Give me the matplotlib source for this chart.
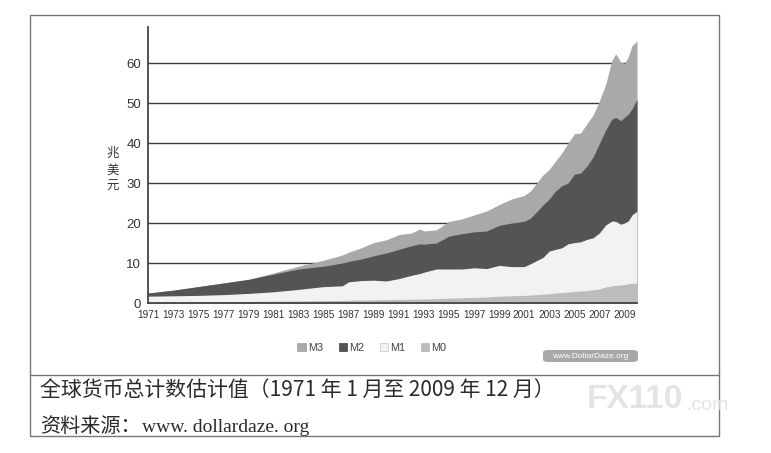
import matplotlib
matplotlib.use("Agg")
import matplotlib.pyplot as plt
from matplotlib.patches import Patch, Rectangle, FancyBboxPatch
from matplotlib.lines import Line2D

plt.rcParams['font.family'] = ['Liberation Sans', 'Noto Sans CJK SC', 'DejaVu Sans']

# data (trillion USD)
years = [1971, 1973, 1975, 1977, 1979, 1981, 1983, 1985, 1986.5, 1987, 1988, 1989,
         1990, 1991, 1992, 1992.7, 1993, 1994, 1995, 1996, 1997, 1998, 1999, 2000,
         2001, 2001.5, 2002, 2002.5, 2003, 2003.5, 2004, 2004.5, 2005, 2005.5, 2006,
         2006.5, 2007, 2007.5, 2008, 2008.3, 2008.7, 2009, 2009.3, 2009.6, 2010]
m3 = [2.5, 3.2, 4.1, 5.0, 5.9, 7.5, 9.2, 10.7, 12.0, 12.7, 13.8, 15.1,
      15.8, 17.1, 17.5, 18.5, 18.0, 18.3, 20.4, 21.0, 22.0, 23.0, 24.6, 26.0,
      26.9, 28.0, 30.0, 32.0, 33.4, 35.5, 37.5, 40.0, 42.3, 42.5, 44.8,
      47.0, 50.5, 54.6, 60.7, 62.3, 60.3, 59.9, 61.5, 64.3, 65.5]
m2 = [2.5, 3.2, 4.1, 5.0, 5.9, 7.2, 8.5, 9.2, 10.0, 10.4, 11.0, 11.8,
      12.5, 13.4, 14.3, 14.8, 14.7, 15.0, 16.7, 17.3, 17.8, 18.0, 19.4, 20.0,
      20.4, 21.2, 22.8, 24.5, 26.0, 28.0, 29.3, 30.0, 32.2, 32.5, 34.2,
      36.5, 39.9, 43.2, 46.0, 46.4, 45.6, 46.4, 47.2, 48.5, 50.9]
m1 = [1.7, 1.8, 1.9, 2.1, 2.4, 2.8, 3.4, 4.1, 4.3, 5.3, 5.6, 5.7,
      5.5, 6.1, 6.9, 7.4, 7.7, 8.5, 8.5, 8.5, 8.8, 8.6, 9.4, 9.1,
      9.1, 9.8, 10.6, 11.4, 13.0, 13.4, 13.8, 14.8, 15.1, 15.3, 15.9,
      16.3, 17.5, 19.5, 20.5, 20.4, 19.7, 20.0, 20.5, 22.0, 23.0]
m0 = [0.2, 0.25, 0.3, 0.35, 0.4, 0.45, 0.5, 0.6, 0.65, 0.7, 0.75, 0.8,
      0.85, 0.9, 0.95, 1.0, 1.0, 1.1, 1.2, 1.3, 1.4, 1.5, 1.7, 1.8,
      1.9, 2.0, 2.1, 2.2, 2.3, 2.5, 2.6, 2.7, 2.9, 3.0, 3.1,
      3.3, 3.5, 4.0, 4.3, 4.4, 4.5, 4.6, 4.8, 4.9, 5.0]

tick_years = list(range(1971, 2010, 2))
y_ticks = [0, 10, 20, 30, 40, 50, 60]
series = ["M3", "M2", "M1", "M0"]
colors = {"M3": "#a9a9a9", "M2": "#545454", "M1": "#f2f2f2", "M0": "#bcbcbc"}

fig = plt.figure(figsize=(7.71, 4.53), dpi=100)
fig.patch.set_facecolor("white")

# outer frame and caption separator
fig.add_artist(Rectangle((30 / 771, 1 - 436 / 453), 689 / 771, 421 / 453,
                         transform=fig.transFigure, fill=False, ec="#777777", lw=1.0))
fig.add_artist(Line2D([30 / 771, 719 / 771], [1 - 375 / 453] * 2,
                      transform=fig.transFigure, color="#777777", lw=1.0))

ax = fig.add_axes([148 / 771, 1 - 303 / 453, 489 / 771, 276 / 453])
ax.set_facecolor("white")
for name, vals in zip(series, [m3, m2, m1, m0]):
    ax.fill_between(years, 0, vals, color=colors[name], lw=0, zorder=2)

ax.set_xlim(1971, 2010)
ax.set_ylim(0, 69)
ax.set_yticks(y_ticks)
ax.set_xticks(tick_years)
ax.set_xticklabels([str(y) for y in tick_years], fontsize=7.2, color="#333333")
ax.tick_params(axis="y", labelsize=9.5, colors="#333333", length=0, pad=5)
ax.tick_params(axis="x", length=0, pad=5)
for y in y_ticks[1:]:
    ax.axhline(y, color="#3a3a3a", lw=1.0, zorder=1)
for s in ["top", "right"]:
    ax.spines[s].set_visible(False)
for s in ["left", "bottom"]:
    ax.spines[s].set_color("#444444")
    ax.spines[s].set_linewidth(1.3)
    ax.spines[s].set_zorder(3)

fig.text(113 / 771, 1 - 170 / 453, "兆\n美\n元", ha="center", va="center",
         fontsize=9, color="#333333", linespacing=1.35, family=["Noto Sans CJK SC"])

handles = [Patch(facecolor=colors[n], edgecolor="#cccccc" if n == "M1" else colors[n],
                 lw=0.6, label=n) for n in series]
fig.legend(handles=handles, loc="center", bbox_to_anchor=(372 / 771, 1 - 348 / 453),
           ncol=4, frameon=False, fontsize=7.8, handlelength=0.8, handleheight=0.8,
           handletextpad=0.2, columnspacing=1.4, labelcolor="#444444")

# site badge
fig.add_artist(FancyBboxPatch((543 / 771, 1 - 362 / 453), 95 / 771, 12 / 453,
                              boxstyle="round,pad=0,rounding_size=0.006",
                              transform=fig.transFigure, fc="#a8a8a8", ec="none"))
fig.text(590 / 771, 1 - 356 / 453, "www.DollarDaze.org", ha="center", va="center",
         fontsize=6, color="white")

# watermark
fig.text(587 / 771, 1 - 399 / 453, "FX110", ha="left", va="center", fontsize=24,
         fontweight="bold", color="#e4e4e4")
fig.text(686 / 771, 1 - 405 / 453, ".com", ha="left", va="center", fontsize=14,
         color="#e4e4e4")

fig.text(40 / 771, 1 - 391 / 453, "全球货币总计数估计值（1971 年 1 月至 2009 年 12 月）",
         ha="left", va="center", fontsize=15, color="#2a2a2a",
         family=["Noto Sans CJK SC", "DejaVu Sans"])
fig.text(40 / 771, 1 - 426 / 453, "资料来源：", ha="left", va="center", fontsize=14.5,
         color="#2a2a2a", family=["Noto Sans CJK SC"])
fig.text(142 / 771, 1 - 427 / 453, "www. dollardaze. org", ha="left", va="center",
         fontsize=14, color="#2a2a2a", family=["Liberation Serif"])

fig.savefig("out.png", dpi=100, facecolor="white")
